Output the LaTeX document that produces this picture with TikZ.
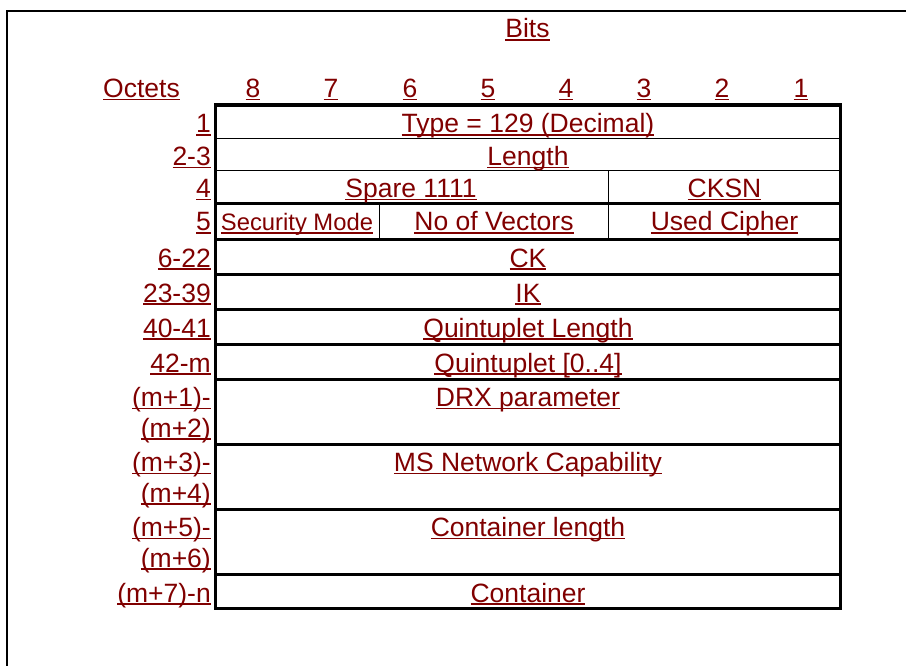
\documentclass[tikz,border=0pt]{standalone}
\usepackage{fontspec}
\setmainfont{Liberation Sans}
\usepackage{tikz}
\usetikzlibrary{positioning}

\definecolor{fieldred}{RGB}{128,0,0}
% underline at a fixed depth, as in the printed table
\newcommand{\ulbox}[1]{\setbox0=\hbox{#1}\rlap{\rule[-2.9pt]{\wd0}{1.6pt}}\box0}

\begin{document}
\begin{tikzpicture}[
  x=1pt, y=-1pt,
  hdr/.style={
    text=fieldred, inner sep=0pt, anchor=base,
    font=\fontsize{26.5}{31}\selectfont
  },
  octet/.style={hdr, anchor=base east},
  field/.style={hdr},
  smallfield/.style={hdr, font=\fontsize{23.8}{28}\selectfont},
  outer/.style={line width=3.3pt},
  rowline/.style={line width=3pt},
  midline/.style={line width=1.7pt},
  thinline/.style={line width=1pt}
]
\useasboundingbox (0,0) rectangle (906,666);

% frame round the figure
\draw[line width=1.7pt] (6.8,666) -- (6.8,10.8) -- (906,10.8);

% heading
\node [hdr] (bits) at (527.5,38) {\ulbox{Bits}};
\node [hdr] (octets) at (141.5,97.5) {\ulbox{Octets}};
\node [hdr] (b8) at (253,97.5) {\ulbox{8}};
\node [hdr] (b7) at (331,97.5) {\ulbox{7}};
\node [hdr] (b6) at (410,97.5) {\ulbox{6}};
\node [hdr] (b5) at (488,97.5) {\ulbox{5}};
\node [hdr] (b4) at (566,97.5) {\ulbox{4}};
\node [hdr] (b3) at (644,97.5) {\ulbox{3}};
\node [hdr] (b2) at (722,97.5) {\ulbox{2}};
\node [hdr] (b1) at (801,97.5) {\ulbox{1}};

% table lines
\draw[midline] (215.5,138.5) -- (840.5,138.5);
\draw[thinline] (215.5,170.5) -- (840.5,170.5);
\draw[rowline] (215.5,204) -- (840.5,204);
\draw[rowline] (215.5,240) -- (840.5,240);
\draw[rowline] (215.5,274.5) -- (840.5,274.5);
\draw[rowline] (215.5,309.5) -- (840.5,309.5);
\draw[rowline] (215.5,344.5) -- (840.5,344.5);
\draw[rowline] (215.5,379) -- (840.5,379);
\draw[rowline] (215.5,444) -- (840.5,444);
\draw[rowline] (215.5,509) -- (840.5,509);
\draw[rowline] (215.5,574) -- (840.5,574);
\draw[thinline] (608,170.5) -- (608,240);
\draw[thinline] (379,204) -- (379,240);
\draw[outer] (215.5,105) rectangle (840.5,608.5);

% octet numbers
\node [octet] (o1) at (211,133) {\ulbox{1}};
\node [octet] (o2) at (211,165.5) {\ulbox{2-3}};
\node [octet] (o3) at (211,197.5) {\ulbox{4}};
\node [octet] (o4) at (211,231) {\ulbox{5}};
\node [octet] (o5) at (211,267) {\ulbox{6-22}};
\node [octet] (o6) at (211,302) {\ulbox{23-39}};
\node [octet] (o7) at (211,337) {\ulbox{40-41}};
\node [octet] (o8) at (211,372) {\ulbox{42-m}};
\node [octet] (o9a) at (211,406.5) {\ulbox{(m+1)-}};
\node [octet] (o9b) at (211,437) {\ulbox{(m+2)}};
\node [octet] (o10a) at (211,471.5) {\ulbox{(m+3)-}};
\node [octet] (o10b) at (211,502) {\ulbox{(m+4)}};
\node [octet] (o11a) at (211,536.5) {\ulbox{(m+5)-}};
\node [octet] (o11b) at (211,567) {\ulbox{(m+6)}};
\node [octet] (o12) at (211,602) {\ulbox{(m+7)-n}};

% fields
\node [field] (type) at (528,133) {\ulbox{Type = 129 (Decimal)}};
\node [field] (length) at (528,165.5) {\ulbox{Length}};
\node [field] (spare) at (411,197.5) {\ulbox{Spare 1111}};
\node [field] (cksn) at (724.5,197.5) {\ulbox{CKSN}};
\node [smallfield] (secmode) at (297,231) {\ulbox{Security Mode}};
\node [field] (novec) at (494,231) {\ulbox{No of Vectors}};
\node [field] (cipher) at (724.5,231) {\ulbox{Used Cipher}};
\node [field] (ck) at (528,267) {\ulbox{CK}};
\node [field] (ik) at (528,302) {\ulbox{IK}};
\node [field] (qlen) at (528,337) {\ulbox{Quintuplet Length}};
\node [field] (quint) at (528,372) {\ulbox{Quintuplet [0..4]}};
\node [field] (drx) at (528,406.5) {\ulbox{DRX parameter}};
\node [field] (msnet) at (528,471.5) {\ulbox{MS Network Capability}};
\node [field] (contlen) at (528,536.5) {\ulbox{Container length}};
\node [field] (cont) at (528,602) {\ulbox{Container}};
\end{tikzpicture}
\end{document}
